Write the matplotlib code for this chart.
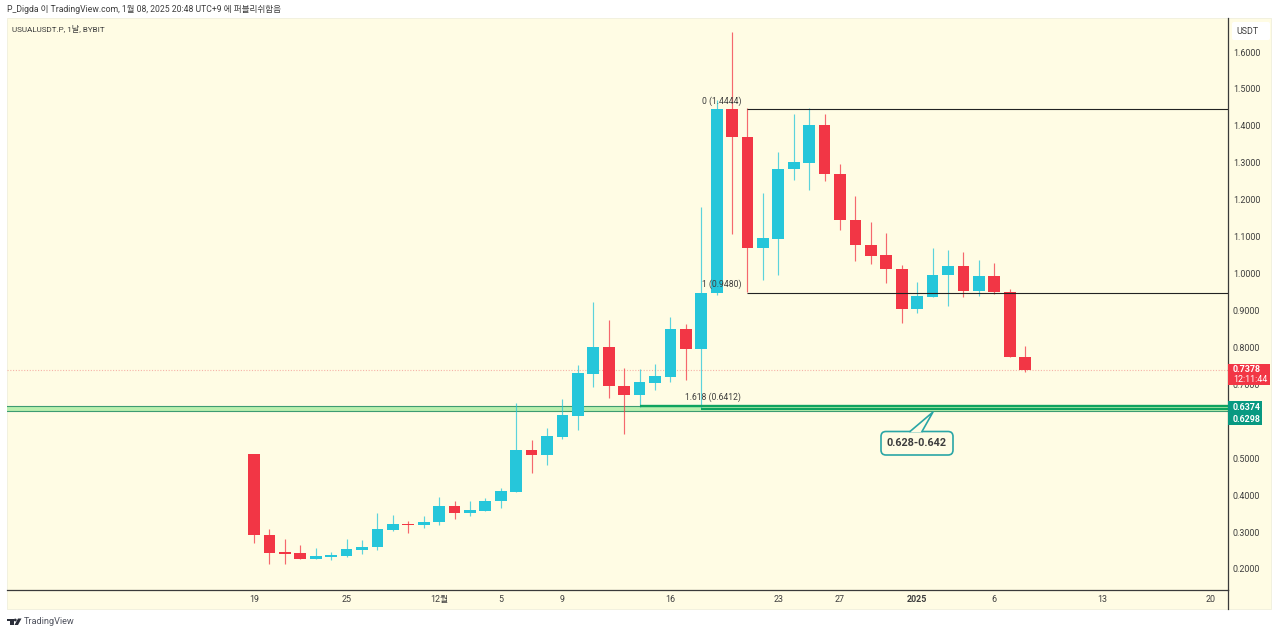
"""USUALUSDT.P daily candles, TradingView style, with fib levels and a support zone."""
import matplotlib

matplotlib.use("Agg")
import matplotlib.pyplot as plt
import numpy as np
from matplotlib.patches import FancyBboxPatch, Polygon, Rectangle
from matplotlib.lines import Line2D
from matplotlib.transforms import Affine2D

plt.rcParams["font.family"] = ["Roboto", "Noto Sans CJK KR", "DejaVu Sans"]

# one value per daily candle, starting 19 Nov 2024
OPEN = [0.5114, 0.2920, 0.2452, 0.2433, 0.2278, 0.2333, 0.2343, 0.2506, 0.2587, 0.3056,
        0.3226, 0.3191, 0.3264, 0.3697, 0.3508, 0.3578, 0.3833, 0.4093, 0.5214, 0.5095,
        0.5574, 0.6151, 0.7288, 0.8003, 0.6963, 0.6703, 0.7044, 0.7207, 0.8490, 0.7965,
        0.9465, 1.4448, 1.3706, 1.0700, 1.0944, 1.2823, 1.2994, 1.4015, 1.2704, 1.1459,
        1.0782, 1.0495, 1.0132, 0.9032, 0.9374, 0.9961, 1.0213, 0.9520, 0.9942, 0.9509,
        0.7749]
HIGH = [0.5114, 0.3083, 0.2812, 0.2649, 0.2576, 0.2452, 0.2812, 0.2777, 0.3508, 0.3462,
        0.3291, 0.3435, 0.3941, 0.3849, 0.3849, 0.3922, 0.4193, 0.6503, 0.5493, 0.5810,
        0.6595, 0.7516, 0.9238, 0.8742, 0.7434, 0.7407, 0.7551, 0.8816, 0.8626, 1.1794,
        1.4700, 1.6533, 1.4475, 1.2173, 1.3300, 1.4329, 1.4475, 1.4329, 1.2959, 1.2100,
        1.1404, 1.1090, 1.0232, 0.9780, 1.0684, 1.0638, 1.0592, 1.0367, 1.0294, 0.9574,
        0.8038]
LOW = [0.2712, 0.2135, 0.2135, 0.2262, 0.2262, 0.2243, 0.2333, 0.2398, 0.2514, 0.3020,
       0.2966, 0.3118, 0.3191, 0.3362, 0.3435, 0.3578, 0.3643, 0.4085, 0.4607, 0.4808,
       0.5512, 0.5764, 0.6936, 0.6622, 0.5655, 0.6395, 0.6847, 0.7072, 0.7118, 0.6351,
       0.9419, 1.1071, 0.9493, 0.9826, 0.9961, 1.2534, 1.2263, 1.2515, 1.1180, 1.0332,
       1.0259, 0.9753, 0.8669, 0.8924, 0.9374, 0.9130, 0.9374, 0.9400, 0.9438, 0.7740,
       0.7342]
CLOSE = [0.2912, 0.2441, 0.2414, 0.2278, 0.2352, 0.2370, 0.2533, 0.2595, 0.3083, 0.3210,
         0.3191, 0.3280, 0.3697, 0.3508, 0.3597, 0.3849, 0.4112, 0.5214, 0.5095, 0.5593,
         0.6170, 0.7307, 0.8003, 0.6947, 0.6703, 0.7055, 0.7226, 0.8490, 0.7965, 0.9474,
         1.4448, 1.3690, 1.0700, 1.0963, 1.2840, 1.3013, 1.4015, 1.2688, 1.1450, 1.0765,
         1.0476, 1.0123, 0.9032, 0.9384, 0.9969, 1.0213, 0.9520, 0.9942, 0.9493, 0.7740,
         0.7378]

PRICE_TICKS = [0.2, 0.3, 0.4, 0.5, 0.6, 0.7, 0.8, 0.9, 1.0, 1.1, 1.2, 1.3, 1.4, 1.5, 1.6]
DATE_TICKS = [0, 6, 12, 16, 20, 27, 34, 38, 43, 48, 55, 62]
DATE_LABELS = ["19", "25", "12월", "5", "9", "16", "23", "27", "2025", "6", "13", "20"]

FIB_TOP, FIB_MID, FIB_EXT = 1.4444, 0.9480, 0.6412
ZONE_TOP, ZONE_BOTTOM = 0.6374, 0.6298  # as printed on the axis
BAND_TOP, BAND_BOTTOM = 0.642, 0.6285  # as drawn in the pane
LINE_UPPER, LINE_LOWER = 0.6402, 0.6320
LAST_PRICE = 0.7378

UP, DOWN = "#26c6da", "#f23645"
PANE = "#fffce4"
TEXT = "#3d3d3d"
GREEN, TEAL = "#0ea35f", "#089981"

W, H = 1280, 634
fig = plt.figure(figsize=(W / 100, H / 100), dpi=100, facecolor="white")
# screen-pixel coordinates, origin top left, for the chrome around the chart
px = Affine2D().scale(1, -1).translate(0, H)

fig.add_artist(Rectangle((7, 18), 1264, 591, transform=px, fc=PANE, ec="#f0efdc", lw=0.6, zorder=-1))

ax = fig.add_axes([7 / W, 1 - 590 / H, 1221 / W, 572 / H])
ax.patch.set_alpha(0)
ax.set_xlim(-16.02, 63.16)
ax.set_ylim(0.1431, 1.6921)
for side in ("top", "left"):
    ax.spines[side].set_visible(False)
for side in ("right", "bottom"):
    ax.spines[side].set_color("#3a3a3a")
    ax.spines[side].set_linewidth(0.9)

# support zone, levels and last price sit under the candles
ax.axhspan(BAND_BOTTOM, BAND_TOP, color="#b9efae", lw=0, zorder=1)
for level in (BAND_TOP, BAND_BOTTOM):
    ax.axhline(level, color="#3d9c72", lw=0.8, zorder=1.5)
ax.axhline(LAST_PRICE, color="#f6b3a8", lw=0.8, ls=(0, (1, 1.5)), zorder=1.5)

x = np.arange(len(OPEN))
opens, closes = np.array(OPEN), np.array(CLOSE)
colors = [UP if c >= o else DOWN for o, c in zip(opens, closes)]
ax.vlines(x, LOW, HIGH, colors=colors, lw=0.85, alpha=0.75, zorder=2)
ax.bar(x, np.abs(closes - opens), 0.76, bottom=np.minimum(opens, closes), color=colors, lw=0, zorder=3)

# fib levels start at their anchor candles
ax.hlines([FIB_TOP, FIB_MID], 32, 63.16, color="#222222", lw=0.8, zorder=4)
ax.hlines(LINE_UPPER, 25, 63.16, color=GREEN, lw=1.7, zorder=4)
ax.hlines(LINE_LOWER, 29, 63.16, color=GREEN, lw=1.5, zorder=4)

fib_kw = dict(ha="right", va="center", fontsize=6.2, color=TEXT, zorder=5)
ax.text(31.6, FIB_TOP + 0.0235, f"0 ({FIB_TOP:.4f})", **fib_kw)
ax.text(31.6, FIB_MID + 0.0235, f"1 ({FIB_MID:.4f})", **fib_kw)
ax.text(31.6, FIB_EXT + 0.0235, f"1.618 ({FIB_EXT:.4f})", **fib_kw)

ax.yaxis.tick_right()
ax.set_yticks(PRICE_TICKS, [f"{p:.4f}" for p in PRICE_TICKS])
ax.set_xticks(DATE_TICKS, DATE_LABELS)
ax.tick_params(axis="both", length=0, labelsize=6.4, labelcolor=TEXT)
ax.tick_params(axis="y", pad=3.5)
ax.tick_params(axis="x", pad=3.5)
for lab in ax.get_xticklabels():
    if lab.get_text() == "2025":
        lab.set_fontweight("bold")

# price axis and time axis separators run through to the pane edge
fig.add_artist(Line2D([1227.5, 1227.5], [590, 609], transform=px, color="#3a3a3a", lw=0.9))

# callout box
callout_edge = "#2aa6a6"
fig.add_artist(FancyBboxPatch((884, 434.5), 66, 17.5, boxstyle="round,pad=3,rounding_size=5", transform=px,
                              fc=PANE, ec=callout_edge, lw=1.2, zorder=6))
fig.add_artist(Polygon([(910, 432), (922, 432), (933, 412)], transform=px, fc=PANE, ec="none", zorder=7))
fig.add_artist(Line2D([910, 933, 922], [431.5, 412, 431.5], transform=px, color=callout_edge, lw=1.2, zorder=8))
fig.text(916.5 / W, 1 - 442.5 / H, "0.628-0.642", ha="center", va="center", fontsize=7.8,
         fontweight="bold", color=TEXT, zorder=9)

# price labels on the right axis
fig.add_artist(Rectangle((1228, 364), 41.5, 20.5, transform=px, fc=DOWN, ec="none", zorder=6))
fig.text(1233 / W, 1 - 370 / H, f"{LAST_PRICE:.4f}", color="white", fontsize=6.4, fontweight="bold",
         va="center", zorder=7)
fig.text(1233 / W, 1 - 380 / H, "12:11:44", color="white", fontsize=6.4, va="center", zorder=7)
fig.add_artist(Rectangle((1228, 401), 33.5, 23.5, transform=px, fc=TEAL, ec="none", zorder=6))
fig.text(1233 / W, 1 - 407 / H, f"{ZONE_TOP:.4f}", color="white", fontsize=6.4, fontweight="bold",
         va="center", zorder=7)
fig.text(1233 / W, 1 - 419 / H, f"{ZONE_BOTTOM:.4f}", color="white", fontsize=6.4, fontweight="bold",
         va="center", zorder=7)

# currency chip
fig.add_artist(FancyBboxPatch((1232, 22), 38, 18, boxstyle="round,pad=0,rounding_size=2", transform=px,
                              fc="white", ec="none", zorder=6))
fig.text(1236 / W, 1 - 31 / H, "USDT", color=TEXT, fontsize=6.4, va="center", zorder=7)

# header and symbol legend
fig.text(7 / W, 1 - 9.5 / H, "P_Digda 이 TradingView.com, 1월 08, 2025 20:48 UTC+9 에 퍼블리쉬함음",
         color=TEXT, fontsize=6.2, va="center")
fig.text(12 / W, 1 - 29 / H, "USUALUSDT.P, 1날, BYBIT", color=TEXT, fontsize=5.9, va="center", zorder=7)

# footer logo and wordmark
logo = "#2a2e39"
fig.add_artist(Polygon([(7, 618.5), (13.5, 618.5), (13.5, 625), (10, 625), (10, 621), (7, 621)],
                       transform=px, fc=logo, ec="none"))
fig.add_artist(plt.Circle((15.3, 620), 1.4, transform=px, fc=logo, ec="none"))
fig.add_artist(Polygon([(18, 618.5), (21.5, 618.5), (18, 625), (14.5, 625)], transform=px, fc=logo, ec="none"))
fig.text(24 / W, 1 - 622 / H, "TradingView", color="#50535e", fontsize=6.6, va="center")

fig.savefig("out.png", dpi=100)
